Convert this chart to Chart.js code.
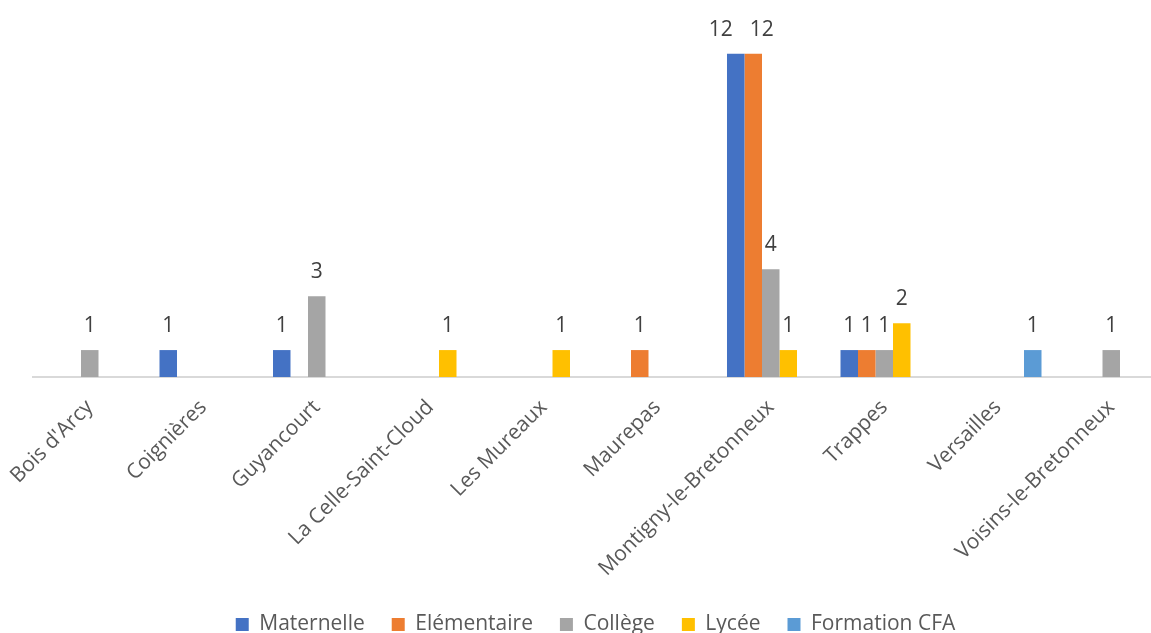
<!DOCTYPE html>
<html>
<head>
<meta charset="utf-8">
<script src="https://cdn.jsdelivr.net/npm/chart.js@4.4.1/dist/chart.umd.min.js"></script>
<style>
html,body{margin:0;padding:0;overflow:hidden;background:#ffffff;}
#c{display:block;}
</style>
</head>
<body>
<canvas id="c" width="1194" height="633"></canvas>
<script>
const categories = ["Bois d'Arcy", "Coignières", "Guyancourt", "La Celle-Saint-Cloud", "Les Mureaux", "Maurepas", "Montigny-le-Bretonneux", "Trappes", "Versailles", "Voisins-le-Bretonneux"];
const seriesNames = ["Maternelle", "Elémentaire", "Collège", "Lycée", "Formation CFA"];
const maternelle  = [null, 1, 1, null, null, null, 12, 1, null, null];
const elementaire = [null, null, null, null, null, 1, 12, 1, null, null];
const college     = [1, null, 3, null, null, null, 4, 1, null, 1];
const lycee       = [null, null, null, 1, 1, null, 1, 2, null, null];
const cfa         = [null, null, null, null, null, null, null, null, 1, null];
const yMin = 0, yMax = 14;

const colors = ["#4472C4", "#ED7D31", "#A5A5A5", "#FFC000", "#5B9BD5"];
const seriesData = [maternelle, elementaire, college, lycee, cfa];
const FONT = "'Open Sans', 'Noto Sans', sans-serif";
const FS = 21;
const PLOT_BOTTOM = 377;
const PAD_BOTTOM = -12;

const valueLabels = {
  id: 'valueLabels',
  afterDatasetsDraw(chart) {
    const ctx = chart.ctx;
    ctx.save();
    ctx.font = FS + "px " + FONT;
    ctx.fillStyle = "#404040";
    ctx.textAlign = "center";
    ctx.textBaseline = "alphabetic";
    // collect labels
    const items = [];
    chart.data.datasets.forEach((ds, i) => {
      const meta = chart.getDatasetMeta(i);
      meta.data.forEach((bar, j) => {
        const v = ds.data[j];
        if (v === null || v === undefined) return;
        const t = String(v);
        items.push({ t, x: bar.x, y: bar.y - 18, w: ctx.measureText(t).width, cat: j });
      });
    });
    // avoid overlap between neighbouring labels at the same height
    items.sort((a, b) => a.x - b.x);
    for (let k = 1; k < items.length; k++) {
      const a = items[k - 1], b = items[k];
      if (a.cat !== b.cat || Math.abs(a.y - b.y) > 1) continue;
      const need = (a.w + b.w) / 2 + 17;
      const d = b.x - a.x;
      if (d < (a.w + b.w) / 2 + 2) {
        const extra = need - d;
        a.x -= extra * 0.64;
        b.x += extra * 0.36;
      }
    }
    items.forEach(it => ctx.fillText(it.t, it.x, it.y));
    ctx.restore();
  }
};

const legendShift = {
  id: 'legendShift',
  afterLayout(chart) {
    const lg = chart.legend;
    if (lg) { lg.left -= 5; lg.right -= 5; }
  }
};

new Chart(document.getElementById('c'), {
  type: 'bar',
  data: {
    labels: categories,
    datasets: seriesNames.map((name, i) => ({
      label: name,
      data: seriesData[i],
      backgroundColor: colors[i],
      borderWidth: 0,
      barPercentage: 1.0,
      categoryPercentage: 0.771
    }))
  },
  options: {
    responsive: false,
    animation: false,
    layout: { padding: { left: 33, right: 26, top: 0, bottom: PAD_BOTTOM } },
    plugins: {
      tooltip: { enabled: false },
      legend: {
        position: 'bottom',
        labels: {
          font: { family: FONT, size: FS },
          color: '#595959',
          boxWidth: 13,
          boxHeight: 13,
          padding: 27
        }
      }
    },
    scales: {
      x: {
        grid: { display: false, drawTicks: false },
        border: { display: true, color: '#D9D9D9', width: 2 },
        ticks: {
          font: { family: FONT, size: FS },
          color: '#595959',
          minRotation: 45,
          maxRotation: 45,
          autoSkip: false,
          padding: 18
        },
        afterFit(s) {
          const lh = (s.chart.legend && s.chart.legend.height) ? s.chart.legend.height : 58;
          s.height = 633 - PAD_BOTTOM - PLOT_BOTTOM - lh;
          s.paddingLeft = 0;
          s.paddingRight = 0;
        }
      },
      y: {
        display: false,
        min: yMin,
        max: yMax
      }
    }
  },
  plugins: [valueLabels, legendShift]
});
</script>
</body>
</html>
